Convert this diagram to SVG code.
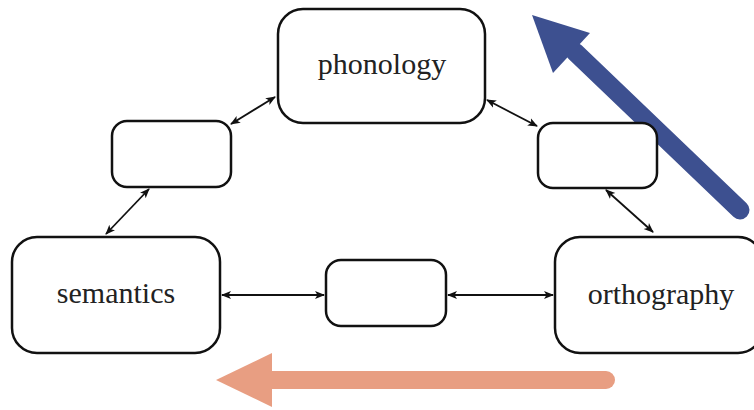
<svg xmlns="http://www.w3.org/2000/svg" width="754" height="410" viewBox="0 0 754 410">
<defs>
<marker id="ah" viewBox="0 0 10 10" refX="9" refY="5" markerWidth="10" markerHeight="10" markerUnits="userSpaceOnUse" orient="auto-start-reverse">
<path d="M0,1 L10,5 L0,9 L2.5,5 Z" fill="#111"/>
</marker>
</defs>
<style>
.box{fill:#fff;stroke:#111;stroke-width:2.5}
.lbl{font-family:"Liberation Serif","DejaVu Serif",serif;font-size:30px;fill:#222;text-anchor:middle}
.con{stroke:#111;stroke-width:1.8;fill:none;marker-start:url(#ah);marker-end:url(#ah)}
</style>
<rect width="754" height="410" fill="#fff"/>
<g id="big-arrows">
<line x1="606" y1="380" x2="268" y2="380" stroke="#e89e82" stroke-width="18" stroke-linecap="round"/>
<polygon points="216,380 272,353 272,407" fill="#e89e82"/>
<line x1="740" y1="210" x2="575" y2="52" stroke="#3d5090" stroke-width="19" stroke-linecap="round"/>
<polygon points="532,15 590,33 553,73" fill="#3d5090"/>
</g>
<g id="connectors">
<line class="con" x1="231" y1="124" x2="275" y2="97"/>
<line class="con" x1="106" y1="234" x2="149" y2="189"/>
<line class="con" x1="487" y1="100" x2="537" y2="126"/>
<line class="con" x1="606" y1="190" x2="653" y2="232"/>
<line class="con" x1="222" y1="295" x2="324" y2="295"/>
<line class="con" x1="448" y1="295" x2="553" y2="295"/>
</g>
<g id="phonology">
<rect class="box" x="278" y="9" width="207" height="114" rx="25"/>
<text class="lbl" x="382" y="74">phonology</text>
</g>
<g id="hidden-top-left">
<rect class="box" x="112" y="121" width="119" height="66" rx="15"/>
</g>
<g id="hidden-top-right">
<rect class="box" x="538" y="123" width="119" height="65" rx="15"/>
</g>
<g id="semantics">
<rect class="box" x="12" y="237" width="208" height="116" rx="25"/>
<text class="lbl" x="116" y="303">semantics</text>
</g>
<g id="hidden-middle">
<rect class="box" x="326" y="260" width="120" height="66" rx="15"/>
</g>
<g id="orthography">
<rect class="box" x="555" y="237" width="208" height="116" rx="25"/>
<text class="lbl" x="661" y="304">orthography</text>
</g>
</svg>
